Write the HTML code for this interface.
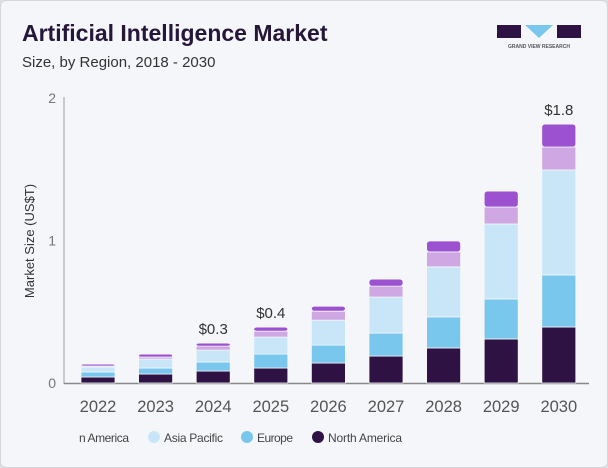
<!DOCTYPE html>
<html><head><meta charset="utf-8"><style>
body{margin:0;background:#dfe1e5;}
#card{position:absolute;left:0;top:0;width:606px;height:466px;background:#f4f6fa;border:1px solid #d4d6da;border-radius:6px;overflow:hidden;font-family:"Liberation Sans",sans-serif;}
</style></head><body>
<div id="card">
<svg id="chart" width="608" height="468">
  <text x="21" y="40" font-size="23" font-weight="bold" fill="#26163a">Artificial Intelligence Market</text>
  <text x="21" y="66" font-size="15" fill="#333">Size, by Region, 2018 - 2030</text>
  <g>
    <rect x="496" y="24" width="24" height="13" fill="#2e1244"/>
    <polygon points="524,24 552,24 538,37" fill="#7ac7ee"/>
    <rect x="556" y="24" width="24" height="13" fill="#2e1244"/>
    <text x="538" y="47" font-size="5" font-weight="bold" fill="#555" text-anchor="middle">GRAND VIEW RESEARCH</text>
  </g>
  <text transform="translate(33,240) rotate(-90)" font-size="13" fill="#333" text-anchor="middle">Market Size (US$T)</text>
  <line x1="63" y1="96" x2="63" y2="383" stroke="#bbb" stroke-width="1.5"/>
  <line x1="63" y1="382.5" x2="588" y2="382.5" stroke="#888" stroke-width="1.5"/>
  <g id="bars"></g>
  <g>
    <text x="78" y="441" font-size="12" fill="#444" textLength="50">n America</text>
    <circle cx="153" cy="436" r="6" fill="#c8e6f7"/>
    <text x="163" y="441" font-size="12" fill="#444" textLength="59">Asia Pacific</text>
    <circle cx="246" cy="436" r="6" fill="#7ac7ee"/>
    <text x="256" y="441" font-size="12" fill="#444" textLength="36">Europe</text>
    <circle cx="317" cy="436" r="6" fill="#2e1244"/>
    <text x="327" y="441" font-size="12" fill="#444" textLength="74">North America</text>
  </g>
</svg>
</div>
<script>
const years=["2022","2023","2024","2025","2026","2027","2028","2029","2030"];
const northAmerica=[0.042,0.063,0.084,0.105,0.14,0.189,0.246,0.309,0.393];
const europe=[0.035,0.042,0.063,0.098,0.126,0.161,0.218,0.281,0.365];
const asiaPacific=[0.035,0.063,0.084,0.119,0.175,0.253,0.351,0.526,0.737];
const mea=[0.007,0.014,0.028,0.042,0.063,0.077,0.105,0.119,0.161];
const latinAmerica=[0.014,0.021,0.021,0.028,0.035,0.049,0.077,0.112,0.161];
const yTicks=[0,1,2];
const totalLabels=["","","$0.3","$0.4","","","","","$1.8"];
const series=[["north-america",northAmerica,"#2e1244"],["europe",europe,"#7ac7ee"],["asia-pacific",asiaPacific,"#c8e6f7"],["mea",mea,"#cfa8e3"],["latin-america",latinAmerica,"#9b51d0"]];
const NS="http://www.w3.org/2000/svg";
const y0=382,pxPerUnit=142.5,x0=97,step=57.6,bw=34;
const yScale=v=>y0-v*pxPerUnit;
const xScale=i=>x0+i*step;
const svg=document.getElementById('chart');
const g=document.getElementById('bars');
yTicks.forEach(t=>{
  const tx=document.createElementNS(NS,'text');
  tx.setAttribute('x',55);tx.setAttribute('y',yScale(t)+5);
  tx.setAttribute('font-size','14');tx.setAttribute('fill','#777');tx.setAttribute('text-anchor','end');
  tx.textContent=t;
  
  
  svg.appendChild(tx);
});
years.forEach((yr,i)=>{
  const cx=xScale(i);let acc=0;
  const grp=document.createElementNS(NS,'g');
  
  
  series.forEach(([name,vals,col],si)=>{
    const v=vals[i];const yb=yScale(acc),yt=yScale(acc+v);acc+=v;
    const r=document.createElementNS(NS,'rect');
    r.setAttribute('x',cx-bw/2);r.setAttribute('y',yt);
    r.setAttribute('width',bw);r.setAttribute('height',Math.max(0,yb-yt));
    r.setAttribute('fill',col);r.setAttribute('stroke','#f4f6fa');r.setAttribute('stroke-width','0.8');
    if(si===series.length-1){r.setAttribute('rx','3');}
    
    
    grp.appendChild(r);
  });
  g.appendChild(grp);
  const xl=document.createElementNS(NS,'text');
  xl.setAttribute('x',cx);xl.setAttribute('y',411);xl.setAttribute('font-size','16.5');
  xl.setAttribute('fill','#555');xl.setAttribute('text-anchor','middle');xl.textContent=yr;
  
  
  svg.appendChild(xl);
  if(totalLabels[i]){
    const vl=document.createElementNS(NS,'text');
    vl.setAttribute('x',cx);vl.setAttribute('y',yScale(acc)-9);vl.setAttribute('font-size','15');
    vl.setAttribute('fill','#333');vl.setAttribute('text-anchor','middle');vl.textContent=totalLabels[i];
    
    
    svg.appendChild(vl);
  }
});
</script>
</body></html>
